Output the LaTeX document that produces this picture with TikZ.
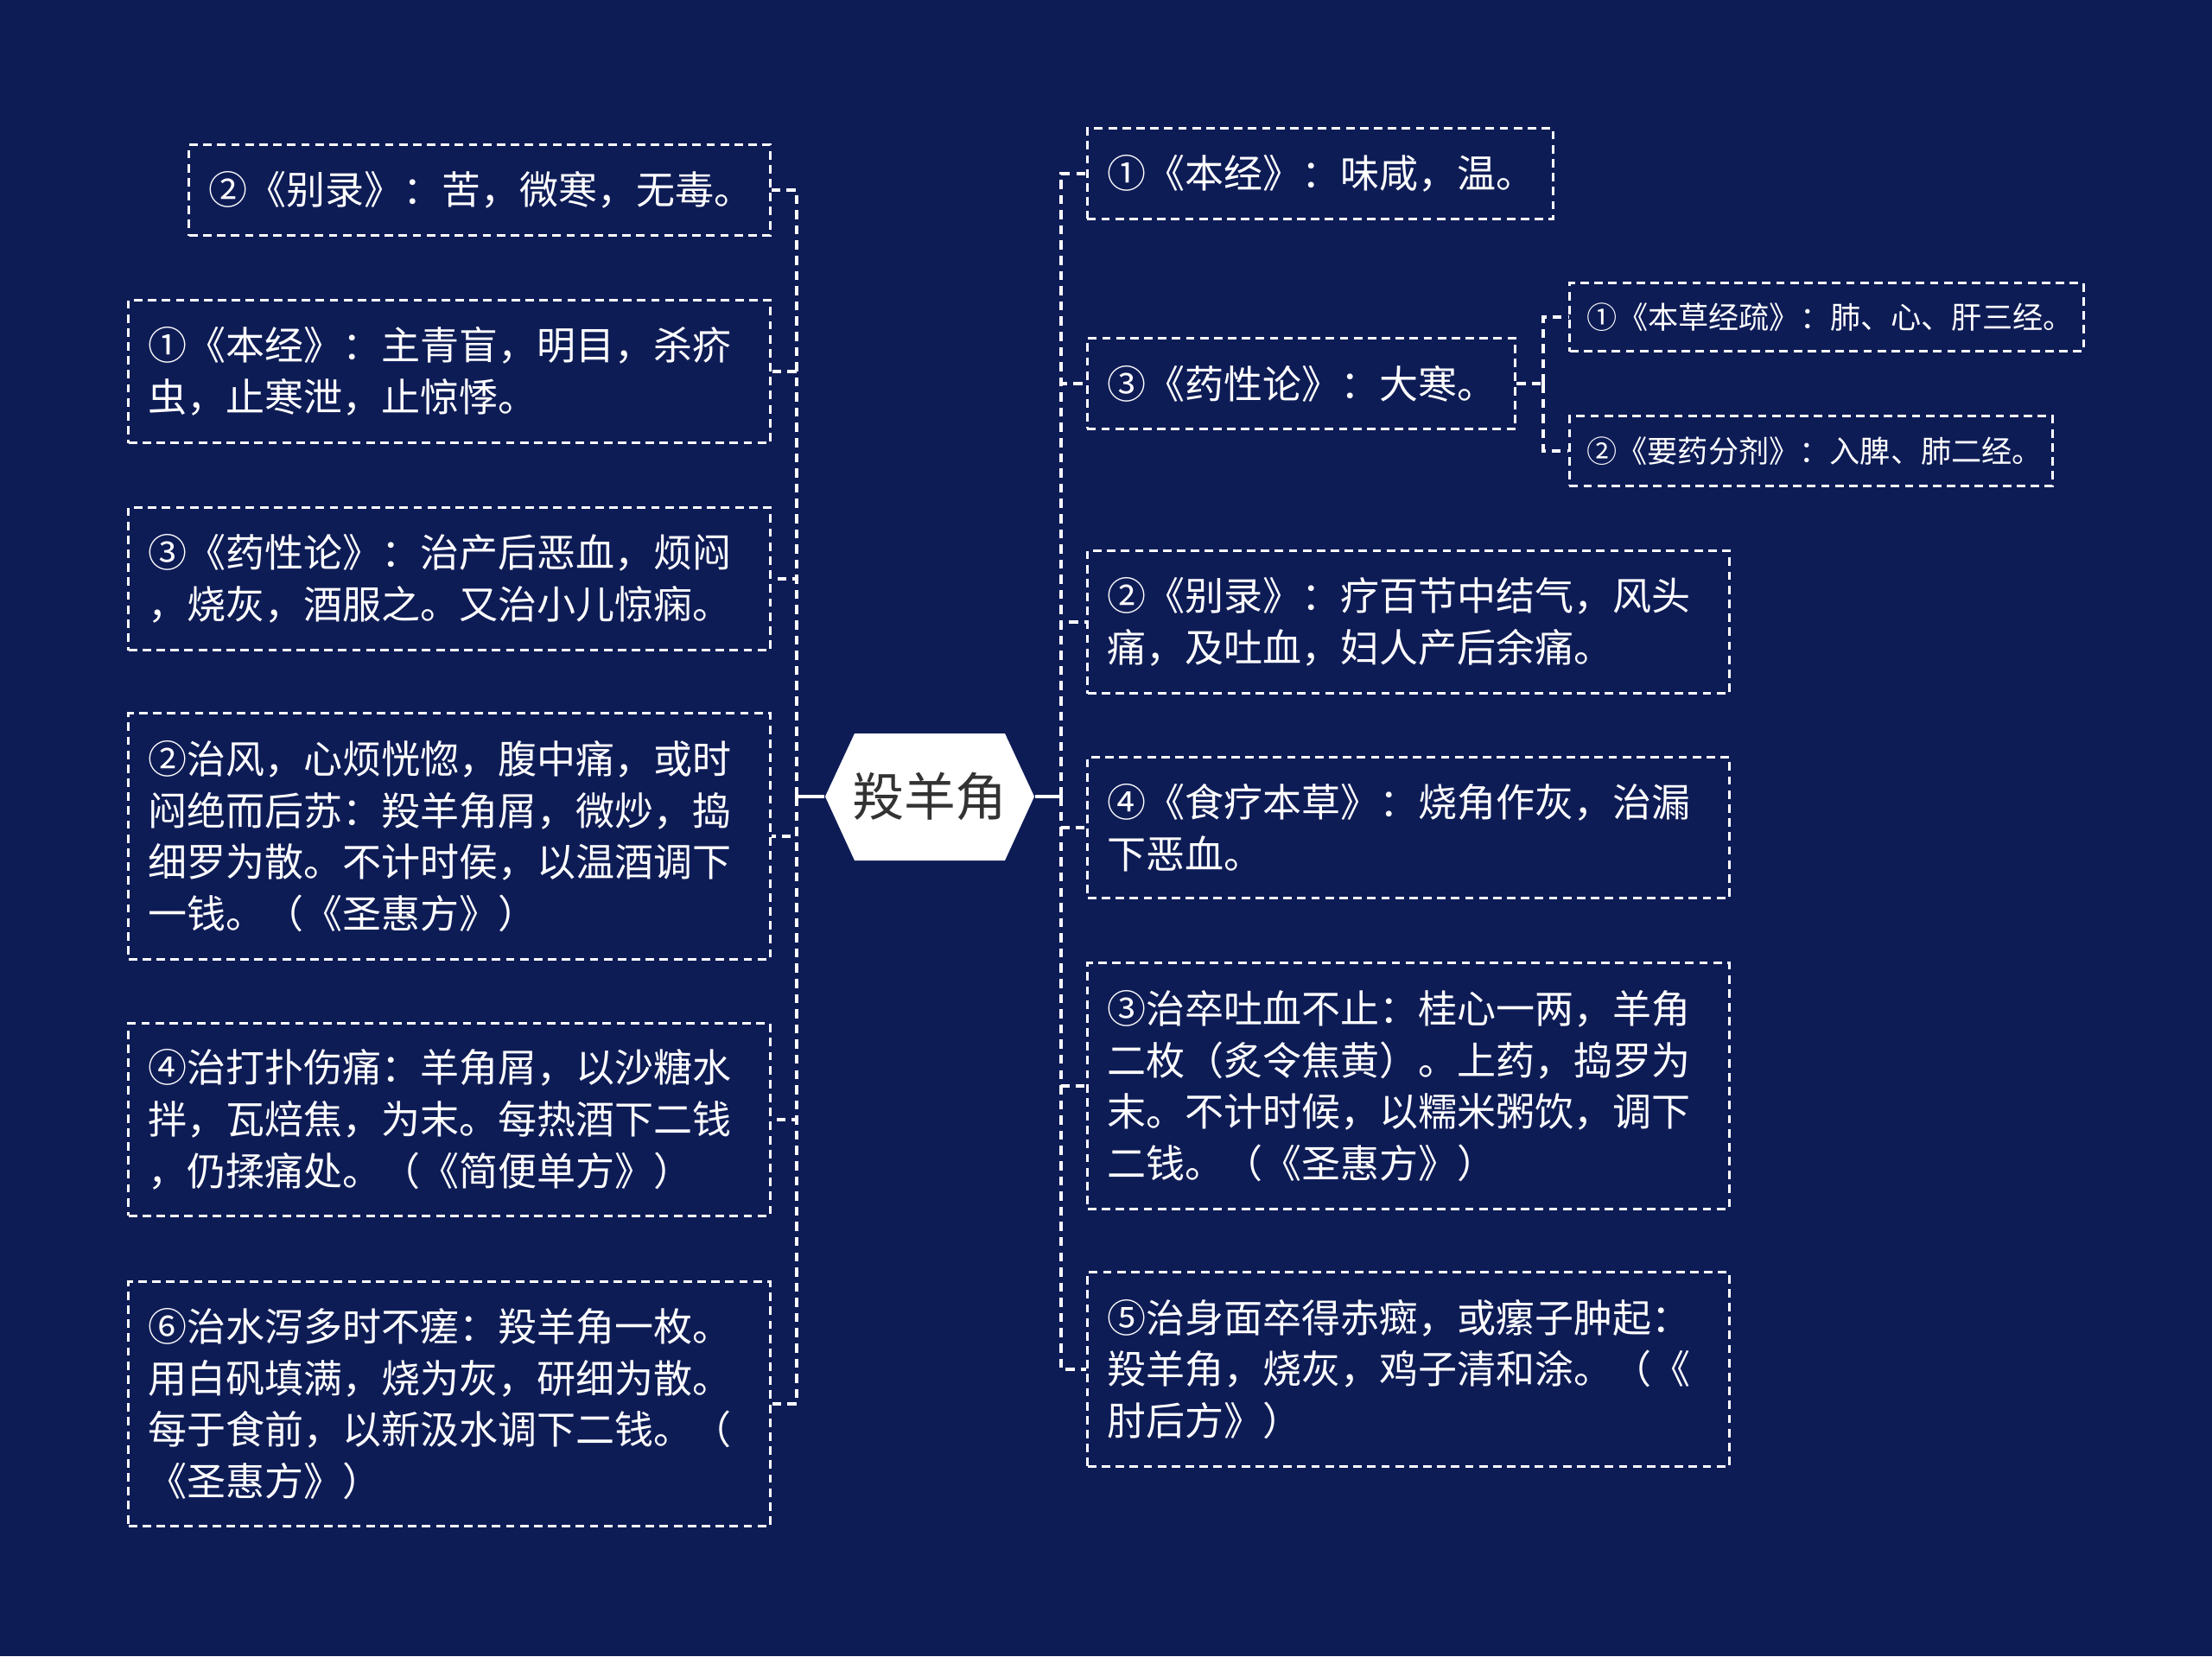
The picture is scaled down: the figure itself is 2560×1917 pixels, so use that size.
\documentclass[tikz,border=0pt]{standalone}
\usepackage{fontspec}
\setmainfont{Noto Sans CJK SC}
\usetikzlibrary{calc}
\definecolor{bgnavy}{RGB}{14,28,86}
\definecolor{rootgray}{RGB}{51,51,51}
\tikzset{
  box/.style ={draw=white,line width=0.85pt,dash pattern=on 2.8pt off 1.8pt,text=white,
               font=\fontsize{12.8pt}{17pt}\selectfont,align=left,inner xsep=0.23cm,inner ysep=0pt},
  wide/.style={box,text width=6.96cm},
  sub/.style ={box,font=\fontsize{10pt}{13pt}\selectfont,inner xsep=0.2cm},
  root/.style={text=rootgray,font=\fontsize{17pt}{20pt}\selectfont,
               minimum width=2.42cm,minimum height=1.47cm,inner sep=0pt},
  link/.style ={white,line width=1pt},
  dlink/.style={white,line width=1pt,dash pattern=on 3pt off 2pt},
}
\begin{document}
\begin{tikzpicture}[x=0.01cm,y=-0.01cm]
  \fill[bgnavy] (0,0) rectangle (2560,1917);

  % centre
  \coordinate (c) at (1076,922);
  \fill[white] ($(c)+(-121,0)$) -- ($(c)+(-87,-73)$) -- ($(c)+(87,-73)$) -- ($(c)+(121,0)$)
    -- ($(c)+(87,74)$) -- ($(c)+(-87,74)$) -- cycle;
  \node[root] (root) at (c) {羖羊角};
  \coordinate (lj) at (922,922);
  \coordinate (rj) at (1228,922);

  % left side
  \node[box,text width=6.26cm,minimum height=1.05cm] (l1) at (555,220) {②《别录》：苦，微寒，无毒。};
  \node[wide,minimum height=1.65cm] (l2) at (520,430) {①《本经》：主青盲，明目，杀疥\\虫，止寒泄，止惊悸。};
  \node[wide,minimum height=1.65cm] (l3) at (520,670) {③《药性论》：治产后恶血，烦闷\\，烧灰，酒服之。又治小儿惊痫。};
  \node[wide,minimum height=2.84cm] (l4) at (520,968) {②治风，心烦恍惚，腹中痛，或时\\闷绝而后苏：羖羊角屑，微炒，捣\\细罗为散。不计时侯，以温酒调下\\一钱。（《圣惠方》）};
  \node[wide,minimum height=2.22cm] (l5) at (520,1296) {④治打扑伤痛：羊角屑，以沙糖水\\拌，瓦焙焦，为末。每热酒下二钱\\，仍揉痛处。（《简便单方》）};
  \node[wide,minimum height=2.83cm] (l6) at (520,1625) {⑥治水泻多时不瘥：羖羊角一枚。\\用白矾填满，烧为灰，研细为散。\\每于食前，以新汲水调下二钱。（\\《圣惠方》）};

  % right side
  \node[box,text width=4.93cm,minimum height=1.04cm] (r1) at (1528,201) {①《本经》：味咸，温。};
  \node[box,text width=4.49cm,minimum height=1.04cm] (r2) at (1506,444) {③《药性论》：大寒。};
  \node[wide,minimum height=1.65cm] (r3) at (1630,720) {②《别录》：疗百节中结气，风头\\痛，及吐血，妇人产后余痛。};
  \node[wide,minimum height=1.63cm] (r4) at (1630,958) {④《食疗本草》：烧角作灰，治漏\\下恶血。};
  \node[wide,minimum height=2.84cm] (r5) at (1630,1257) {③治卒吐血不止：桂心一两，羊角\\二枚（炙令焦黄）。上药，捣罗为\\末。不计时候，以糯米粥饮，调下\\二钱。（《圣惠方》）};
  \node[wide,minimum height=2.25cm] (r6) at (1630,1585) {⑤治身面卒得赤癍，或瘰子肿起：\\羖羊角，烧灰，鸡子清和涂。（《\\肘后方》）};
  \node[sub,text width=5.54cm,minimum height=0.79cm] (s1) at (2114,367) {①《本草经疏》：肺、心、肝三经。};
  \node[sub,text width=5.19cm,minimum height=0.80cm] (s2) at (2096,522) {②《要药分剂》：入脾、肺二经。};
  \coordinate (sj) at (1786,444);

  % connectors
  \draw[link] (root.west) -- (lj);
  \draw[link] (root.east) -- (rj);
  \foreach \n in {l1,l2,l3,l4,l5,l6}
    \draw[dlink] (lj) |- (\n.east);
  \foreach \n in {r1,r2,r3,r4,r5,r6}
    \draw[dlink] (rj) |- (\n.west);
  \draw[dlink] (r2.east) -- (sj);
  \foreach \n in {s1,s2}
    \draw[dlink] (sj) |- (\n.west);
\end{tikzpicture}
\end{document}
